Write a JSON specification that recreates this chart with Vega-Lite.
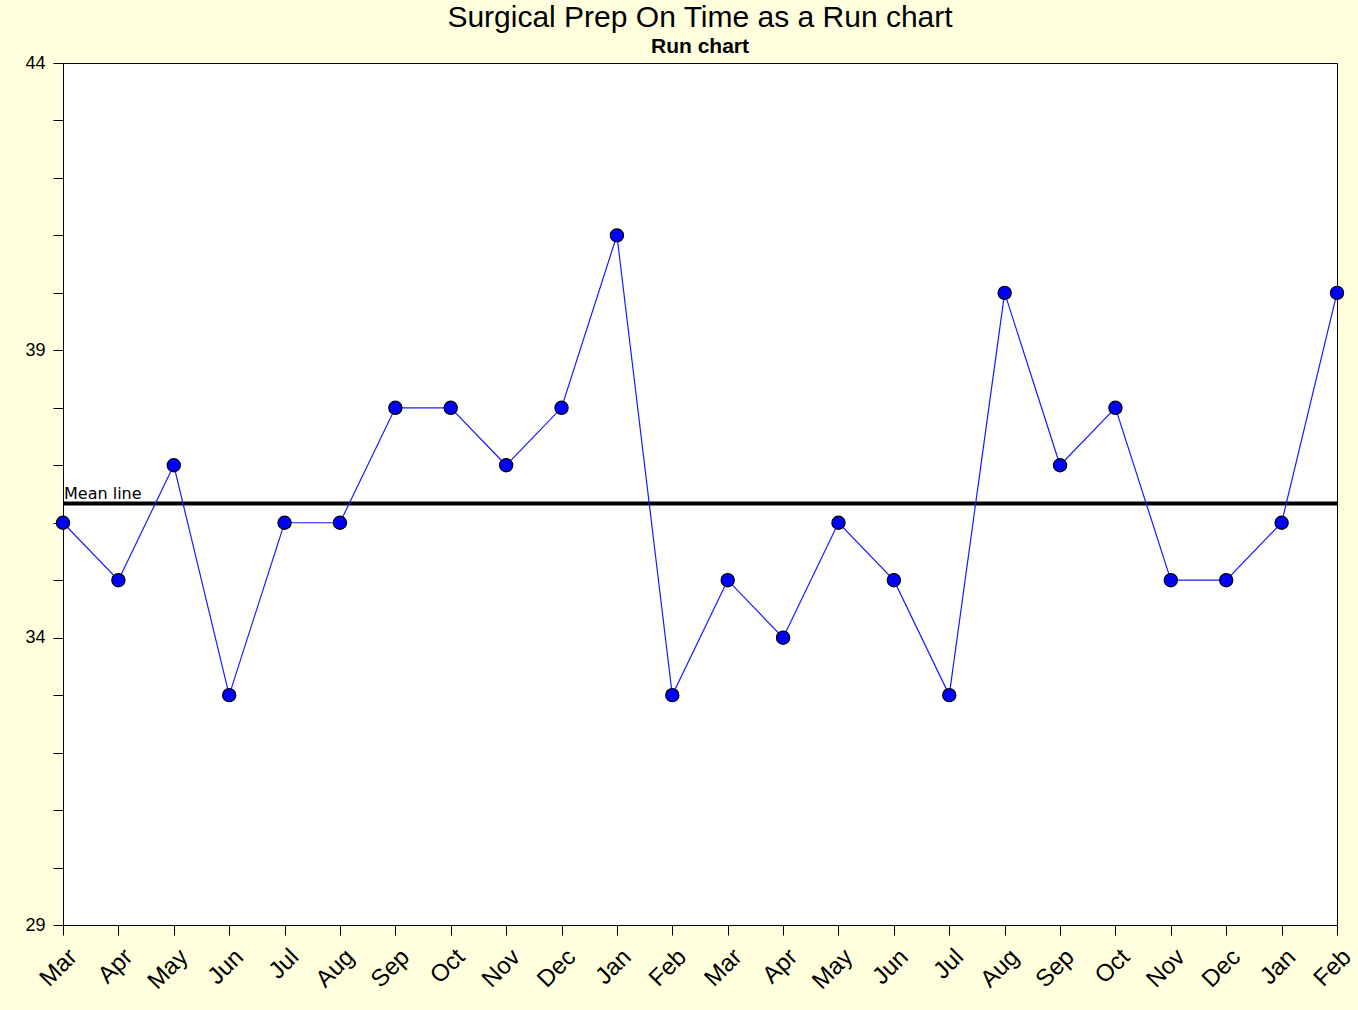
{
  "$schema": "https://vega.github.io/schema/vega-lite/v6.json",
  "autosize": "none",
  "width": 1274,
  "height": 862,
  "padding": {"left": 63, "top": 63, "right": 21, "bottom": 85},
  "background": "#FFFFDD",
  "title": {
    "text": "Surgical Prep On Time as a Run chart",
    "subtitle": "Run chart",
    "font": "Liberation Sans",
    "fontSize": 30,
    "fontWeight": "normal",
    "color": "#000000",
    "subtitleFont": "Liberation Sans",
    "subtitleFontSize": 21,
    "subtitleFontWeight": "bold",
    "subtitleColor": "#000000",
    "subtitlePadding": 3,
    "anchor": "middle",
    "offset": -3
  },
  "config": {
    "view": {"stroke": "#000000", "strokeWidth": 1, "fill": "#FFFFFF"},
    "axis": {"grid": false}
  },
  "data": {
    "values": [
      {"period": "Mar 1", "value": 36},
      {"period": "Apr 1", "value": 35},
      {"period": "May 1", "value": 37},
      {"period": "Jun 1", "value": 33},
      {"period": "Jul 1", "value": 36},
      {"period": "Aug 1", "value": 36},
      {"period": "Sep 1", "value": 38},
      {"period": "Oct 1", "value": 38},
      {"period": "Nov 1", "value": 37},
      {"period": "Dec 1", "value": 38},
      {"period": "Jan 2", "value": 41},
      {"period": "Feb 2", "value": 33},
      {"period": "Mar 2", "value": 35},
      {"period": "Apr 2", "value": 34},
      {"period": "May 2", "value": 36},
      {"period": "Jun 2", "value": 35},
      {"period": "Jul 2", "value": 33},
      {"period": "Aug 2", "value": 40},
      {"period": "Sep 2", "value": 37},
      {"period": "Oct 2", "value": 38},
      {"period": "Nov 2", "value": 35},
      {"period": "Dec 2", "value": 35},
      {"period": "Jan 3", "value": 36},
      {"period": "Feb 3", "value": 40}
    ]
  },
  "layer": [
    {
      "mark": {"type": "rule", "color": "#000000", "strokeWidth": 4},
      "encoding": {
        "y": {"aggregate": "mean", "field": "value", "type": "quantitative"}
      }
    },
    {
      "mark": {"type": "text", "text": "Mean line", "align": "left", "baseline": "alphabetic", "dx": 1, "dy": -5, "font": "DejaVu Sans", "fontSize": 16, "color": "#000000"},
      "encoding": {
        "x": {"datum": "Mar 1", "type": "ordinal"},
        "y": {"aggregate": "mean", "field": "value", "type": "quantitative"}
      }
    },
    {
      "mark": {"type": "line", "color": "#1a1aff", "strokeWidth": 1.2},
      "encoding": {
        "x": {"field": "period", "type": "ordinal", "sort": null},
        "y": {"field": "value", "type": "quantitative"}
      }
    },
    {
      "mark": {"type": "point", "filled": true, "fill": "#0000FF", "stroke": "#000000", "strokeWidth": 1.2, "size": 175, "opacity": 1},
      "encoding": {
        "x": {
          "field": "period", "type": "ordinal", "sort": null,
          "scale": {"type": "point", "padding": 0},
          "axis": {
            "title": null,
            "labelExpr": "split(datum.value, ' ')[0]",
            "labelAngle": -45,
            "labelAlign": "right",
            "labelBaseline": "middle",
            "labelFont": "Liberation Sans",
            "labelFontSize": 24,
            "labelColor": "#000000",
            "labelPadding": 18,
            "labelOffset": 10,
            "labelOverlap": false,
            "tickSize": 10,
            "tickColor": "#000000",
            "domainColor": "#000000"
          }
        },
        "y": {
          "field": "value", "type": "quantitative",
          "scale": {"domain": [29, 44], "nice": false, "zero": false},
          "axis": {
            "title": null,
            "values": [29, 30, 31, 32, 33, 34, 35, 36, 37, 38, 39, 40, 41, 42, 43, 44],
            "format": "d",
            "labelExpr": "(datum.value - 29) % 5 == 0 ? datum.label : ''",
            "labelFont": "Liberation Sans",
            "labelFontSize": 18,
            "labelColor": "#000000",
            "labelPadding": 8,
            "tickSize": 10,
            "tickColor": "#000000",
            "domainColor": "#000000"
          }
        }
      }
    }
  ]
}
